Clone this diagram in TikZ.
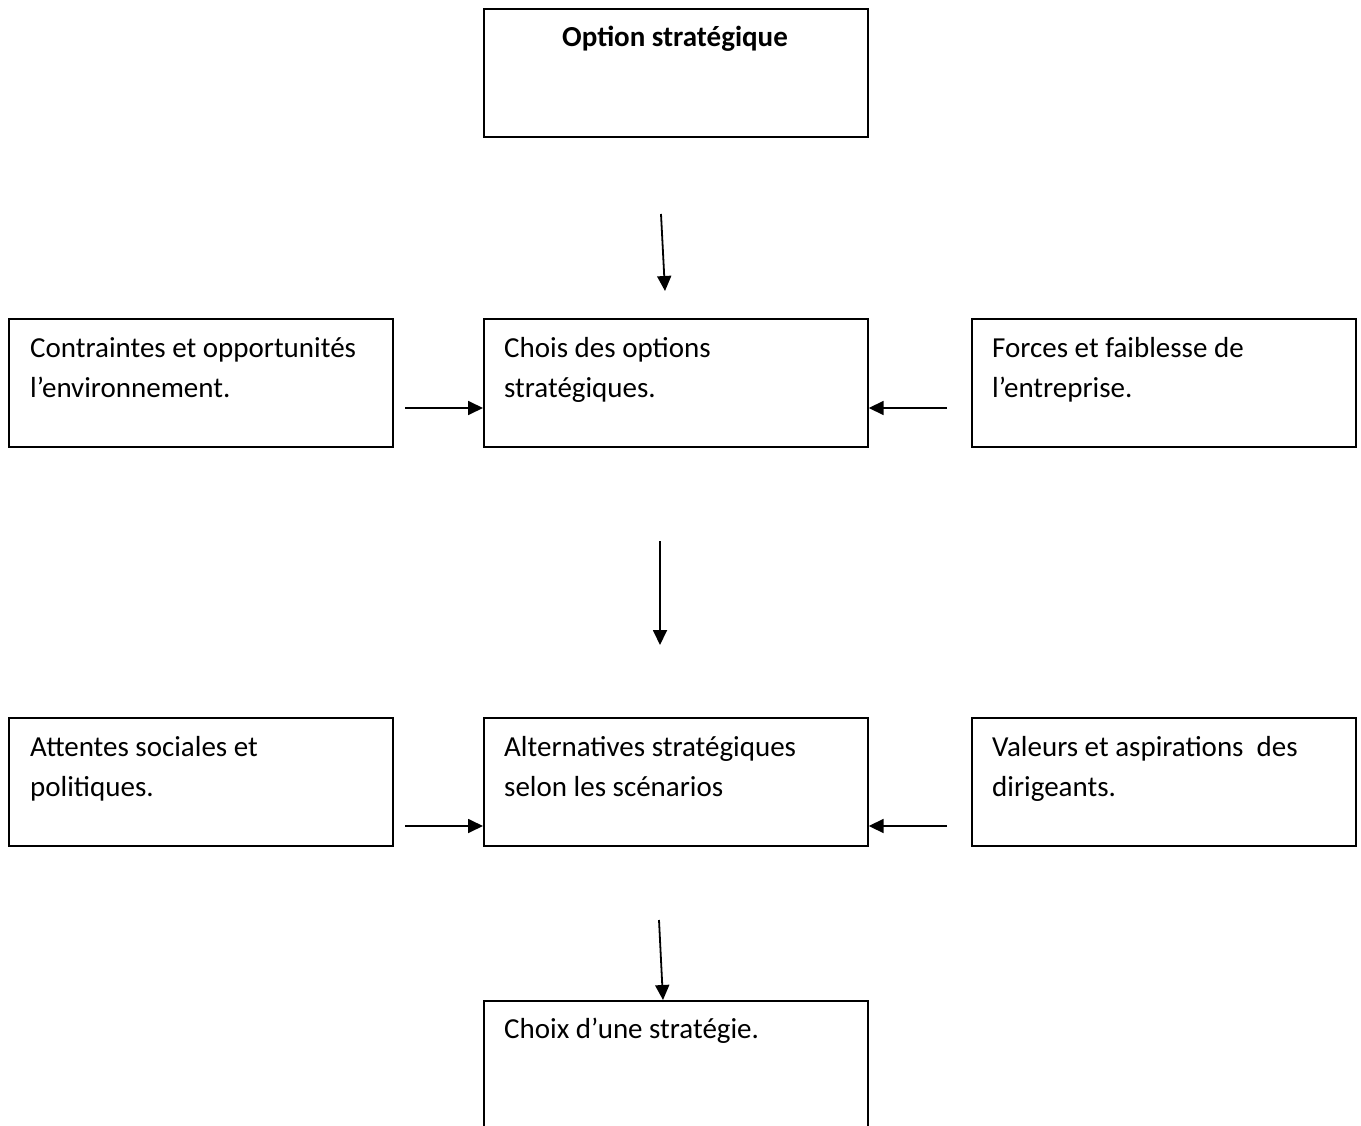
\documentclass[tikz,border=0pt]{standalone}
\usepackage{fontspec}
\setmainfont{Carlito}
\usetikzlibrary{arrows.meta}
\begin{document}
\begin{tikzpicture}[x=1pt,y=-1pt,
  box/.style={draw,line width=1.7pt,rectangle,minimum width=384pt,minimum height=128pt,anchor=north west,inner sep=0pt},
  txt/.style={anchor=base west,inner sep=0pt,font=\fontsize{29pt}{40pt}\selectfont,align=left},
  conn/.style={line width=1.8pt,-{Triangle[length=15pt,width=14pt]}}]
\clip (0,0) rectangle (1361,1126);
% boxes
\node[box] (top) at (483,8) {};
\node[box] (l1) at (8,318) {};
\node[box] (m1) at (483,318) {};
\node[box] (r1) at (971,318) {};
\node[box] (l2) at (8,717) {};
\node[box] (m2) at (483,717) {};
\node[box] (r2) at (971,717) {};
\node[box,minimum height=150pt] (bot) at (483,1000) {};
% texts (base = baseline of last line)
\node[anchor=base,inner sep=0pt,font=\fontsize{29pt}{40pt}\selectfont\bfseries] (ttop) at (675,47) {Option stratégique};
\node[txt] (tl1) at (30,397) {Contraintes et opportunités\\l’environnement.};
\node[txt] (tm1) at (504,397) {Chois des options\\stratégiques.};
\node[txt] (tr1) at (992,397) {Forces et faiblesse de\\l’entreprise.};
\node[txt] (tl2) at (30,796) {Attentes sociales et\\politiques.};
\node[txt] (tm2) at (504,796) {Alternatives stratégiques\\selon les scénarios};
\node[txt] (tr2) at (992,796) {Valeurs et aspirations~ des\\dirigeants.};
\node[txt] (tbot) at (504,1038) {Choix d’une stratégie.};
% arrow start points
\coordinate (a1) at (661,214);
\coordinate (a1e) at (665,291);
\coordinate (a2) at (660,541);
\coordinate (a2e) at (660,645);
\coordinate (a3) at (659,920);
\coordinate (hl1) at (405,408);
\coordinate (hr1) at (947,408);
\coordinate (hl2) at (405,826);
\coordinate (hr2) at (947,826);
% connectors
\draw[conn] (a1) -- (a1e);
\draw[conn] (a2) -- (a2e);
\draw[conn] (a3) -- (bot.north -| 663,0);
\draw[conn] (hl1) -- (m1.west |- hl1);
\draw[conn] (hr1) -- (m1.east |- hr1);
\draw[conn] (hl2) -- (m2.west |- hl2);
\draw[conn] (hr2) -- (m2.east |- hr2);
\end{tikzpicture}
\end{document}
